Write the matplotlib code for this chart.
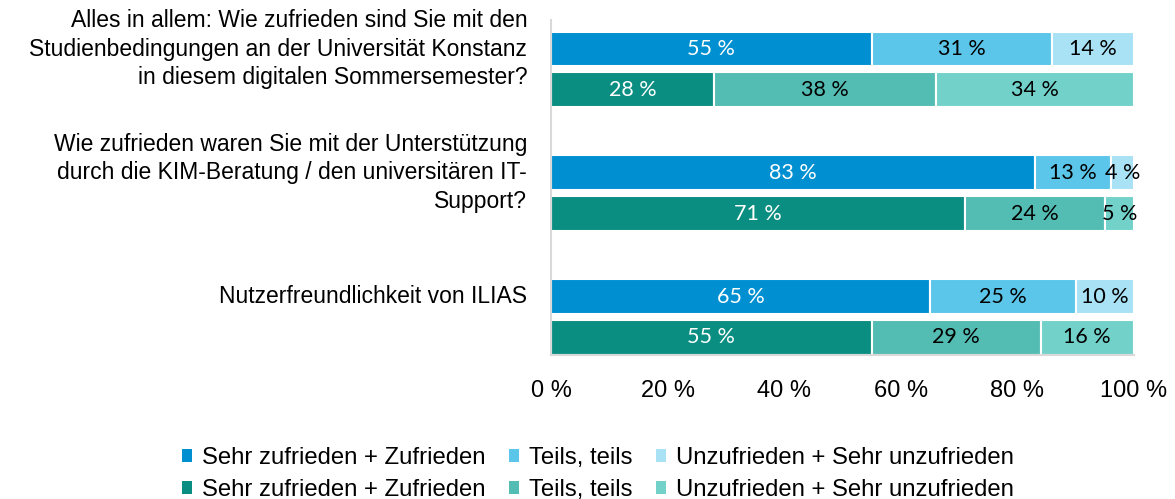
import matplotlib.pyplot as plt
from matplotlib.patches import Patch
import numpy as np

# survey questions (top to bottom)
questions = [
    "Alles in allem: Wie zufrieden sind Sie mit den\nStudienbedingungen an der Universität Konstanz\nin diesem digitalen Sommersemester?",
    "Wie zufrieden waren Sie mit der Unterstützung\ndurch die KIM-Beratung / den universitären IT-\nSupport?",
    "Nutzerfreundlichkeit von ILIAS",
]
categories = ["Sehr zufrieden + Zufrieden", "Teils, teils", "Unzufrieden + Sehr unzufrieden"]

# shares in percent, one row per question: [zufrieden, teils, unzufrieden]
blue_vals = [[55, 31, 14], [83, 13, 4], [65, 25, 10]]
teal_vals = [[28, 38, 34], [71, 24, 5], [55, 29, 16]]

xticks = [0, 20, 40, 60, 80, 100]
xtick_labels = ["0 %", "20 %", "40 %", "60 %", "80 %", "100 %"]

blue_cols = ["#008fd0", "#5bc6ea", "#a9e1f5"]
teal_cols = ["#0b8e82", "#54bdb3", "#72d2ca"]
label_cols = ["white", "black", "black"]

fig = plt.figure(figsize=(11.75, 4.99), dpi=100)
ax = fig.add_axes([0.469, 0.289, 0.496, 0.671])

ypos = np.arange(len(questions))
h = 0.282
off = 0.165

for vals, cols, dy in [(blue_vals, blue_cols, -off), (teal_vals, teal_cols, off)]:
    vals = np.array(vals)
    left = np.zeros(len(questions))
    for j in range(3):
        ax.barh(ypos + dy, vals[:, j], left=left, height=h, color=cols[j],
                edgecolor="white", linewidth=1.5)
        for i, v in enumerate(vals[:, j]):
            ax.text(left[i] + v / 2, ypos[i] + dy, f"{v} %", ha="center", va="center",
                    color=label_cols[j], fontsize=15.5, family="Lato")
        left += vals[:, j]

ax.set_xlim(0, 100)
ax.set_ylim(2.306, -0.40)
ax.set_xticks(xticks)
ax.set_xticklabels(xtick_labels, fontsize=17, family="Liberation Sans")
ax.tick_params(axis="x", length=0, pad=18)
ax.set_yticks([])
for s in ["top", "right"]:
    ax.spines[s].set_visible(False)
for s in ["left", "bottom"]:
    ax.spines[s].set_color("#d9d9d9")
    ax.spines[s].set_linewidth(1.5)

# question texts, x in axes fraction, y in data
for i, q in enumerate(questions):
    ax.text(-0.041, ypos[i] - off, q, transform=ax.get_yaxis_transform(),
            ha="right", va="center", fontsize=16.5, family="Liberation Sans",
            linespacing=1.31)

# legend: blue row on top, teal row below (filled column by column)
handles, labels = [], []
for j in range(3):
    for cols in (blue_cols, teal_cols):
        handles.append(Patch(facecolor=cols[j], edgecolor="none"))
        labels.append(categories[j])
fig.legend(handles, labels,
           ncol=3, loc="lower center", bbox_to_anchor=(0.509, -0.047), frameon=False,
           prop={"family": "Liberation Sans", "size": 17.2},
           handlelength=0.42, handleheight=0.42, handletextpad=0.4,
           columnspacing=1.0, labelspacing=0.42)

fig.savefig("out.png", dpi=100)
